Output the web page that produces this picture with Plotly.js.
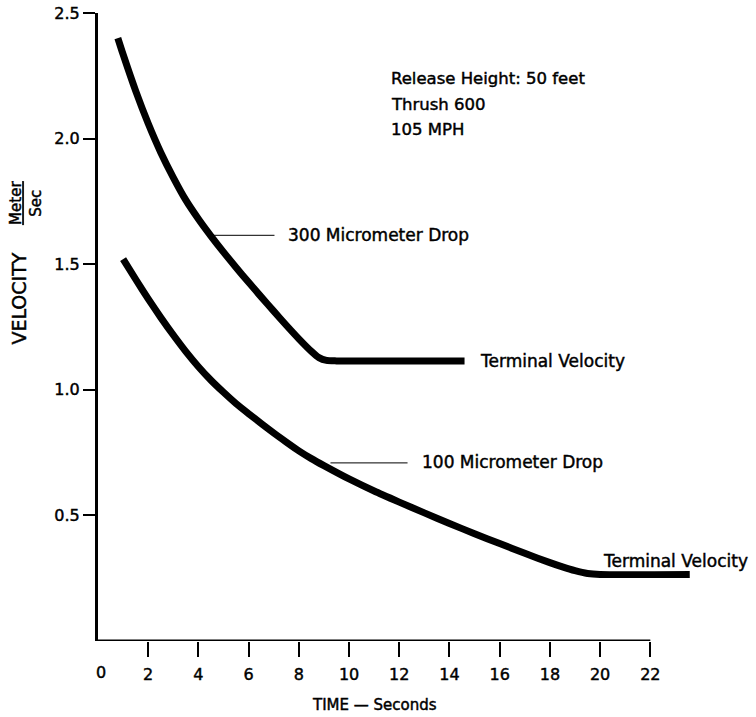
<!DOCTYPE html>
<html>
<head>
<meta charset="utf-8">
<script src="https://cdn.plot.ly/plotly-3.0.1.min.js"></script>
<style>
html,body{margin:0;padding:0;background:#fff;}
#chart{width:756px;height:717px;}
#chart text{stroke:#000;stroke-width:0.45px;}
</style>
</head>
<body>
<div id="chart"></div>
<script>
// 300 micrometer drop
const time300 = [0.79, 1.0, 1.5, 2.0, 2.5, 3.0, 3.5, 4.0, 4.5, 5.0, 5.5, 6.0, 6.5, 7.0, 7.5, 8.0, 8.5, 8.8, 9.1, 9.5, 14.6];
const vel300  = [2.400, 2.335, 2.190, 2.060, 1.945, 1.845, 1.755, 1.680, 1.612, 1.548, 1.487, 1.428, 1.370, 1.313, 1.257, 1.203, 1.153, 1.128, 1.117, 1.115, 1.115];
// 100 micrometer drop
const time100 = [1.0, 1.5, 2.0, 2.5, 3.0, 3.5, 4.0, 4.5, 5.0, 5.5, 6.0, 6.5, 7.0, 7.5, 8.0, 8.5, 9.0, 10.0, 11.0, 12.0, 13.0, 14.0, 15.0, 16.0, 17.0, 18.0, 18.5, 19.0, 19.5, 20.0, 23.57];
const vel100  = [1.520, 1.440, 1.362, 1.288, 1.218, 1.152, 1.092, 1.038, 0.990, 0.945, 0.905, 0.866, 0.828, 0.792, 0.757, 0.726, 0.698, 0.645, 0.597, 0.553, 0.510, 0.468, 0.427, 0.388, 0.349, 0.312, 0.295, 0.280, 0.269, 0.265, 0.265];

const xTicks = [2, 4, 6, 8, 10, 12, 14, 16, 18, 20, 22];
const yTicks = [0.5, 1.0, 1.5, 2.0, 2.5];
const yTickText = ['0.5', '1.0', '1.5', '2.0', '2.5'];

const FONT = 'DejaVu Sans, sans-serif';
const lineStyle = {color: '#000', width: 7, shape: 'spline', smoothing: 0.6};

const traces = [
  {x: time300, y: vel300, mode: 'lines', line: lineStyle, name: '300 Micrometer Drop', hoverinfo: 'skip'},
  {x: time100, y: vel100, mode: 'lines', line: lineStyle, name: '100 Micrometer Drop', hoverinfo: 'skip'}
];

const txt = (x, y, text, size, extra) => Object.assign({
  x: x, y: y, xref: 'x', yref: 'y', text: text, showarrow: false,
  xanchor: 'left', yanchor: 'middle', font: {family: FONT, size: size, color: '#000'}
}, extra || {});

const layout = {
  width: 756, height: 717,
  margin: {l: 98, r: 63, t: 13, b: 76},
  paper_bgcolor: '#fff', plot_bgcolor: '#fff',
  showlegend: false,
  font: {family: FONT, color: '#000'},
  xaxis: {
    range: [0, 23.7], showgrid: false, zeroline: false, showline: false,
    tickmode: 'array', tickvals: xTicks, ticktext: xTicks.map(String),
    ticks: 'outside', ticklen: 15, tickwidth: 2, tickcolor: '#000',
    ticklabelstandoff: 4,
    tickfont: {family: FONT, size: 16, color: '#000'}
  },
  yaxis: {
    range: [0, 2.5], showgrid: false, zeroline: false,
    showline: true, linewidth: 3, linecolor: '#000',
    tickmode: 'array', tickvals: yTicks, ticktext: yTickText,
    ticks: 'outside', ticklen: 12, tickwidth: 2, tickcolor: '#000',
    tickfont: {family: FONT, size: 16, color: '#000'}
  },
  shapes: [
    {type: 'line', xref: 'x', yref: 'y', x0: 0, x1: 22, y0: 0, y1: 0, line: {color: '#000', width: 3}},
    {type: 'line', xref: 'x', yref: 'y', x0: 4.5, x1: 7.03, y0: 1.615, y1: 1.615, line: {color: '#000', width: 1}},
    {type: 'line', xref: 'x', yref: 'y', x0: 9.26, x1: 12.33, y0: 0.709, y1: 0.709, line: {color: '#000', width: 1}}
  ],
  annotations: [
    {x: 0.12, y: -0.0494, xref: 'x', yref: 'paper', text: '0', showarrow: false,
     xanchor: 'center', yanchor: 'middle', font: {family: FONT, size: 16, color: '#000'}},
    txt(7.47, 1.618, '300 Micrometer Drop', 17),
    txt(12.81, 0.711, '100 Micrometer Drop', 17),
    txt(15.13, 1.115, 'Terminal Velocity', 17),
    txt(20.05, 0.319, 'Terminal Velocity', 17),
    txt(11.59, 2.24, 'Release Height: 50 feet', 16.5),
    txt(11.59, 2.134, 'Thrush 600', 16.5),
    txt(11.59, 2.037, '105 MPH', 16.5),
    {x: 11, y: -0.102, xref: 'x', yref: 'paper', text: 'TIME \u2014 Seconds', showarrow: false,
     xanchor: 'center', yanchor: 'middle', font: {family: FONT, size: 15, color: '#000'}},
    {x: -0.133, y: 0.545, xref: 'paper', yref: 'paper', text: 'VELOCITY', showarrow: false, textangle: -90,
     xanchor: 'center', yanchor: 'middle', font: {family: FONT, size: 19, color: '#000'}},
    {x: -0.12, y: 0.697, xref: 'paper', yref: 'paper', text: '<u>Meter</u><br>Sec', showarrow: false, textangle: -90,
     xanchor: 'center', yanchor: 'middle', font: {family: FONT, size: 15, color: '#000'}}
  ]
};

Plotly.newPlot('chart', traces, layout, {displayModeBar: false, staticPlot: true});
</script>
</body>
</html>
